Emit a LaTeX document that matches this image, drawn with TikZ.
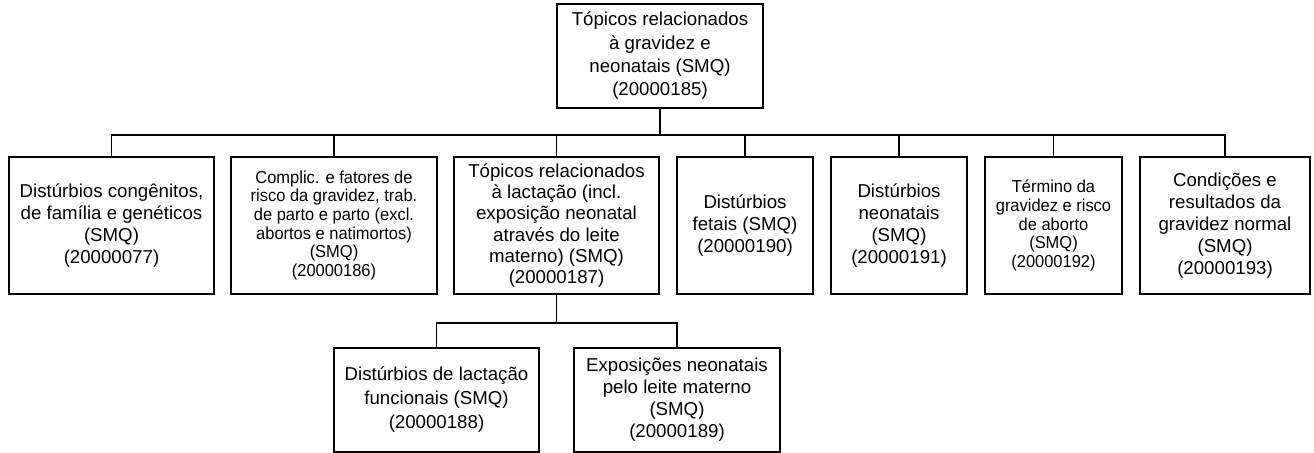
\documentclass[tikz,border=0pt]{standalone}
\usepackage{fontspec}
\setmainfont{Liberation Sans}
\newfontfamily\narrowsans[FakeStretch=0.95]{Liberation Sans}
\usetikzlibrary{positioning}

\begin{document}
\begin{tikzpicture}[x=0.75pt,y=-0.75pt,
	box/.style={draw, line width=1.2pt, align=center, inner sep=0pt, minimum height=102.75pt, font=\fontsize{14}{16.5}\selectfont},
	smallbox/.style={box, font=\narrowsans\fontsize{13}{14}\selectfont},
	lowbox/.style={box, minimum height=78pt},
	conn/.style={line width=1.2pt}]

	\useasboundingbox (0,0) rectangle (1314,453);

	\node (S0)[box, minimum height=78pt, minimum width=154.5pt, font=\fontsize{14}{17.5}\selectfont] at (660,56) {Tópicos relacionados\\à gravidez e\\neonatais (SMQ)\\(20000185)};

	\node (S1)[box, minimum width=153.75pt] at (111.5,225.5) {Distúrbios congênitos,\\de família e genéticos\\(SMQ)\\(20000077)};
	\node (S2)[smallbox, minimum width=154.5pt] at (334,225.5) {Complic. e fatores de\\risco da gravidez, trab.\\de parto e parto (excl.\\abortos e natimortos)\\(SMQ)\\(20000186)};
	\node (S3)[box, minimum width=153.75pt, font=\fontsize{14}{16}\selectfont] at (556.5,225.5) {Tópicos relacionados\\à lactação (incl.\\exposição neonatal\\através do leite\\materno) (SMQ)\\(20000187)};
	\node (S4)[box, minimum width=102pt] at (745,225.5) {Distúrbios\\fetais (SMQ)\\(20000190)};
	\node (S5)[box, minimum width=102pt] at (899,225.5) {Distúrbios\\neonatais\\(SMQ)\\(20000191)};
	\node (S6)[smallbox, minimum width=102.75pt] at (1053.5,225.5) {Término da\\gravidez e risco\\de aborto\\(SMQ)\\(20000192)};
	\node (S7)[box, minimum width=127.5pt] at (1225,225.5) {Condições e\\resultados da\\gravidez normal\\(SMQ)\\(20000193)};

	\node (L1)[lowbox, minimum width=153.75pt, font=\fontsize{14}{18}\selectfont] at (436.5,400) {Distúrbios de lactação\\funcionais (SMQ)\\(20000188)};
	\node (L2)[lowbox, minimum width=154.5pt] at (677,400) {Exposições neonatais\\pelo leite materno\\(SMQ)\\(20000189)};

	% joints of the tree
	\coordinate (J0) at (660,135);
	\coordinate (J1) at (556.5,323);

	\draw[line width=2.2pt] (S0.south) -- (J0);
	\draw[conn] (S1.north) |- (J0) -| (S7.north);
	\foreach \n in {2,...,6}
		\draw[conn] (S\n.north) -- (S\n.north |- J0);

	\draw[conn] (S3.south) -- (J1);
	\draw[conn] (L1.north) |- (J1) -| (L2.north);
\end{tikzpicture}
\end{document}
